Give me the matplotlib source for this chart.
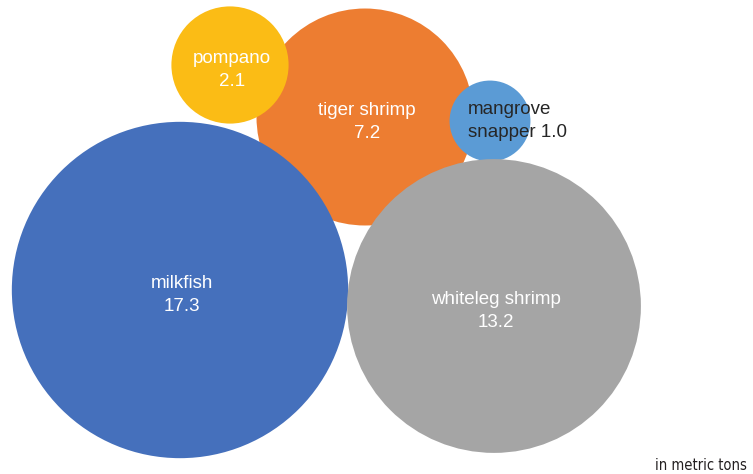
import matplotlib.pyplot as plt

# production by species, in metric tons
species = ["tiger shrimp", "pompano", "mangrove\nsnapper", "milkfish", "whiteleg shrimp"]
tons = [7.2, 2.1, 1.0, 17.3, 13.2]
colors = ["#ED7D31", "#FBBC15", "#5B9BD5", "#4570BC", "#A5A5A5"]

# bubble centres, in pixels from the top left corner
centers_x = [365, 230, 490, 180, 494]
centers_y = [117, 65, 121, 290, 306]

# bubble area proportional to tonnage (points^2 per ton)
SIZE_PER_TON = 3390

fig = plt.figure(figsize=(7.53, 4.74), dpi=100)
ax = fig.add_axes([0, 0, 1, 1])
ax.set_xlim(0, 753)
ax.set_ylim(474, 0)
ax.axis("off")

ax.scatter(centers_x, centers_y, s=[t * SIZE_PER_TON for t in tons],
           c=colors, linewidths=0, zorder=2)

for name, t, x, y in zip(species, tons, centers_x, centers_y):
    if name.startswith("mangrove"):
        ax.text(x - 22, y, "{} {:.1f}".format(name, t), ha="left", va="center",
                fontsize=13.5, family=["Liberation Sans", "DejaVu Sans"],
                color="#262626", linespacing=1.45, zorder=3)
    else:
        ax.text(x + 2, y + 5, "{}\n{:.1f}".format(name, t), ha="center", va="center",
                fontsize=13.5, family=["Liberation Sans", "DejaVu Sans"],
                color="white", linespacing=1.45, zorder=3)

ax.text(747, 465, "in metric tons", ha="right", va="center", fontsize=10.5,
        family="DejaVu Sans", fontstretch="condensed", color="#231F20")

fig.savefig("out.png", dpi=100)
